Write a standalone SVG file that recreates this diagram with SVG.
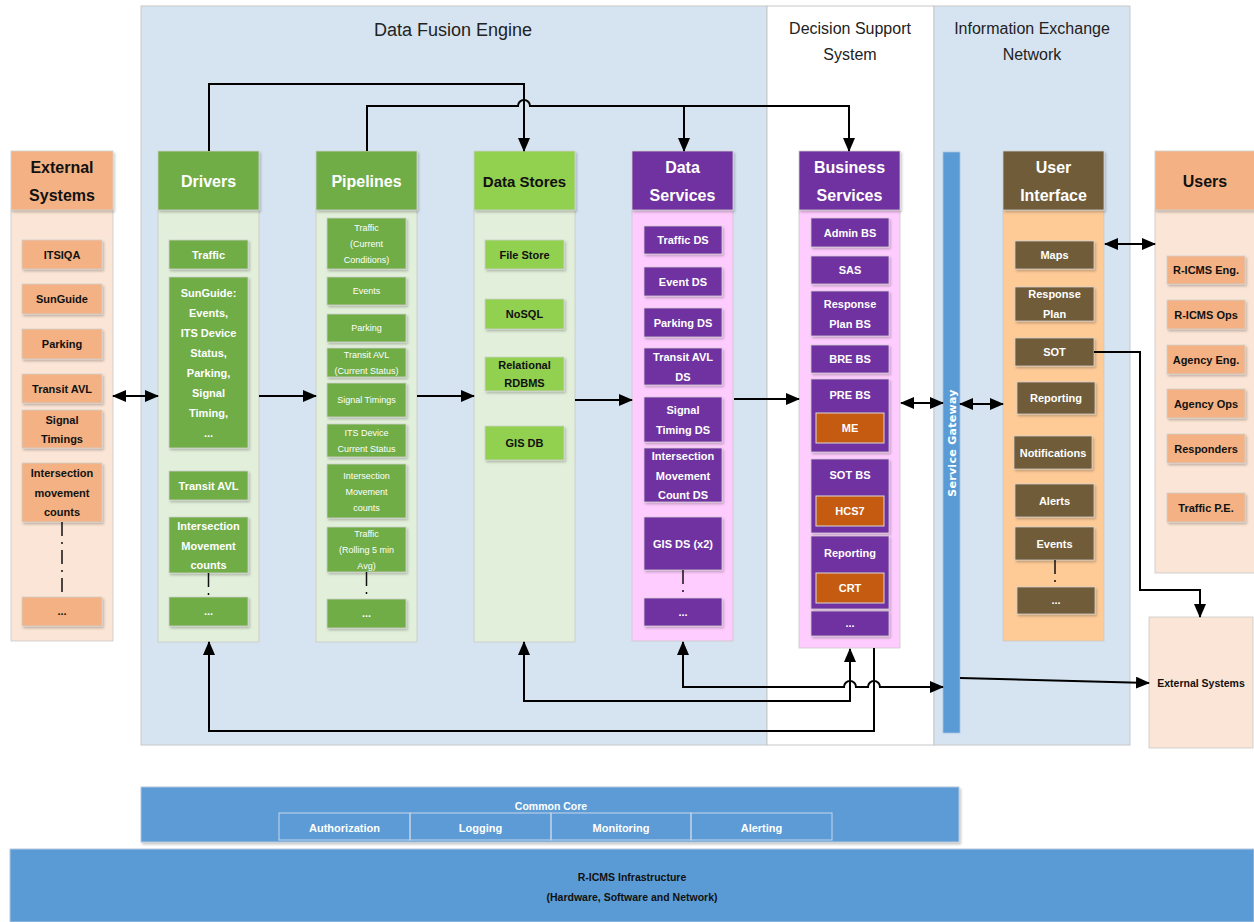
<svg xmlns="http://www.w3.org/2000/svg" width="1254" height="922" viewBox="0 0 1254 922">
<defs>
<style>
text{font-family:"Liberation Sans",Arial,sans-serif;text-anchor:middle;dominant-baseline:central}
.panel{fill:#d6e4f1;stroke:#c8c8c8;stroke-width:1}
.ptitle{font-size:16px;fill:#222}
.hdr{font-size:16px;font-weight:bold}
.it{font-size:11px;font-weight:bold}
.sm{font-size:9px}
.w{fill:#fff}
.k{fill:#111}
.body{stroke:#c9c9c9;stroke-width:0.8}
.orH{fill:#f4b183}
.orB{fill:#fbe5d6}
.grH{fill:#70ad47}
.grB{fill:#e2efda}
.lgH{fill:#92d050}
.puH{fill:#7030a0}
.puB{fill:#ffccff}
.brH{fill:#6f5b37}
.ui{fill:#fecb97}
.rust{fill:#c55a11;stroke:#d9d9d9;stroke-width:1}
.box{stroke:#d0d0d0;stroke-width:0.8;filter:url(#sh)}
.dash{stroke:#111;stroke-width:1.5;stroke-dasharray:14,6,2,6;fill:none}
.con{stroke:#000;stroke-width:2;fill:none}
.one{marker-end:url(#ah)}
.two{marker-start:url(#ah);marker-end:url(#ah)}
</style>
<marker id="ah" viewBox="0 0 14 12" refX="13" refY="6" markerWidth="14" markerHeight="12" markerUnits="userSpaceOnUse" orient="auto-start-reverse">
<path d="M0,0 L14,6 L0,12 z" fill="#000"/>
</marker>
<filter id="sh" x="-10%" y="-10%" width="130%" height="140%">
<feDropShadow dx="1.5" dy="2" stdDeviation="1.2" flood-color="#000" flood-opacity="0.22"/>
</filter>
</defs>

<rect width="1254" height="922" fill="#fff"/>

<g id="panels">
<rect class="panel" x="141" y="6" width="626" height="739"/>
<rect x="767" y="6" width="167" height="739" fill="#fff" stroke="#c8c8c8"/>
<rect class="panel" x="934" y="6" width="196" height="739"/>
<text class="ptitle" x="453" y="30" style="font-size:18px">Data Fusion Engine</text>
<text class="ptitle" x="850" y="28">Decision Support</text>
<text class="ptitle" x="850" y="54">System</text>
<text class="ptitle" x="1032" y="28">Information Exchange</text>
<text class="ptitle" x="1032" y="54">Network</text>
</g>

<g id="external-systems">
<rect class="orB body" x="11" y="210" width="102" height="431"/>
<rect class="orH box" x="11" y="151" width="102" height="59"/>
<text class="hdr k" x="62" y="167">External</text>
<text class="hdr k" x="62" y="195">Systems</text>
<rect class="orH box" x="22" y="240" width="80" height="29"/><text class="it k" x="62" y="254.5">ITSIQA</text>
<rect class="orH box" x="22" y="284" width="80" height="30"/><text class="it k" x="62" y="299">SunGuide</text>
<rect class="orH box" x="22" y="329" width="80" height="30"/><text class="it k" x="62" y="344">Parking</text>
<rect class="orH box" x="22" y="374" width="80" height="29"/><text class="it k" x="62" y="388.5">Transit AVL</text>
<rect class="orH box" x="22" y="410" width="80" height="38"/><text class="it k" x="62" y="420">Signal</text><text class="it k" x="62" y="439">Timings</text>
<rect class="orH box" x="22" y="463" width="80" height="59"/><text class="it k" x="62" y="473">Intersection</text><text class="it k" x="62" y="492.5">movement</text><text class="it k" x="62" y="512">counts</text>
<line class="dash" x1="62" y1="522" x2="62" y2="597"/>
<rect class="orH box" x="22" y="597" width="80" height="29"/><text class="it k" x="62" y="611">...</text>
</g>

<g id="drivers">
<rect class="grB body" x="158" y="210" width="101" height="432"/>
<rect class="grH box" x="158" y="151" width="101" height="59"/>
<text class="hdr w" x="208.5" y="181">Drivers</text>
<rect class="grH box" x="169" y="240" width="79" height="29"/><text class="it w" x="208.5" y="254.5">Traffic</text>
<rect class="grH box" x="169" y="277" width="79" height="171"/>
<text class="it w" x="208.5" y="293">SunGuide:</text>
<text class="it w" x="208.5" y="313">Events,</text>
<text class="it w" x="208.5" y="333">ITS Device</text>
<text class="it w" x="208.5" y="353">Status,</text>
<text class="it w" x="208.5" y="373">Parking,</text>
<text class="it w" x="208.5" y="393">Signal</text>
<text class="it w" x="208.5" y="413">Timing,</text>
<text class="it w" x="208.5" y="433">...</text>
<rect class="grH box" x="169" y="471" width="79" height="29"/><text class="it w" x="208.5" y="485.5">Transit AVL</text>
<rect class="grH box" x="169" y="517" width="79" height="56"/><text class="it w" x="208.5" y="526">Intersection</text><text class="it w" x="208.5" y="546">Movement</text><text class="it w" x="208.5" y="565">counts</text>
<line class="dash" x1="208.5" y1="573" x2="208.5" y2="597"/>
<rect class="grH box" x="169" y="597" width="79" height="29"/><text class="it w" x="208.5" y="611">...</text>
</g>

<g id="pipelines">
<rect class="grB body" x="316" y="210" width="101" height="432"/>
<rect class="grH box" x="316" y="151" width="101" height="59"/>
<text class="hdr w" x="366.5" y="181">Pipelines</text>
<rect class="grH box" x="327" y="218" width="79" height="51"/><text class="sm w" x="366.5" y="228">Traffic</text><text class="sm w" x="366.5" y="244">(Current</text><text class="sm w" x="366.5" y="260">Conditions)</text>
<rect class="grH box" x="327" y="277" width="79" height="28"/><text class="sm w" x="366.5" y="291">Events</text>
<rect class="grH box" x="327" y="314" width="79" height="28"/><text class="sm w" x="366.5" y="328">Parking</text>
<rect class="grH box" x="327" y="348" width="79" height="29"/><text class="sm w" x="366.5" y="355">Transit AVL</text><text class="sm w" x="366.5" y="371">(Current Status)</text>
<rect class="grH box" x="327" y="383" width="79" height="34"/><text class="sm w" x="366.5" y="400">Signal Timings</text>
<rect class="grH box" x="327" y="424" width="79" height="33"/><text class="sm w" x="366.5" y="433">ITS Device</text><text class="sm w" x="366.5" y="449">Current Status</text>
<rect class="grH box" x="327" y="464" width="79" height="54"/><text class="sm w" x="366.5" y="476">Intersection</text><text class="sm w" x="366.5" y="492">Movement</text><text class="sm w" x="366.5" y="508">counts</text>
<rect class="grH box" x="327" y="527" width="79" height="45"/><text class="sm w" x="366.5" y="534">Traffic</text><text class="sm w" x="366.5" y="550">(Rolling 5 min</text><text class="sm w" x="366.5" y="566">Avg)</text>
<line class="dash" x1="366.5" y1="572" x2="366.5" y2="599"/>
<rect class="grH box" x="327" y="599" width="79" height="29"/><text class="it w" x="366.5" y="613">...</text>
</g>

<g id="data-stores">
<rect class="grB body" x="474" y="210" width="101" height="432"/>
<rect class="lgH box" x="474" y="151" width="101" height="59"/>
<text class="hdr k" x="524.5" y="181" style="font-size:15px">Data Stores</text>
<rect class="lgH box" x="485" y="240" width="79" height="29"/><text class="it k" x="524.5" y="254.5">File Store</text>
<rect class="lgH box" x="485" y="299" width="79" height="30"/><text class="it k" x="524.5" y="314">NoSQL</text>
<rect class="lgH box" x="485" y="357" width="79" height="34"/><text class="it k" x="524.5" y="365">Relational</text><text class="it k" x="524.5" y="383">RDBMS</text>
<rect class="lgH box" x="485" y="426" width="79" height="34"/><text class="it k" x="524.5" y="443">GIS DB</text>
</g>

<g id="data-services">
<rect class="puB body" x="632" y="210" width="101" height="431"/>
<rect class="puH box" x="632" y="151" width="101" height="59"/>
<text class="hdr w" x="682.5" y="167">Data</text>
<text class="hdr w" x="682.5" y="195">Services</text>
<rect class="puH box" x="644" y="226" width="78" height="28"/><text class="it w" x="683" y="240">Traffic DS</text>
<rect class="puH box" x="644" y="267" width="78" height="29"/><text class="it w" x="683" y="281.5">Event DS</text>
<rect class="puH box" x="644" y="308" width="78" height="29"/><text class="it w" x="683" y="322.5">Parking DS</text>
<rect class="puH box" x="644" y="348" width="78" height="37"/><text class="it w" x="683" y="357">Transit AVL</text><text class="it w" x="683" y="377">DS</text>
<rect class="puH box" x="644" y="397" width="78" height="45"/><text class="it w" x="683" y="410">Signal</text><text class="it w" x="683" y="430">Timing DS</text>
<rect class="puH box" x="644" y="448" width="78" height="54"/><text class="it w" x="683" y="456">Intersection</text><text class="it w" x="683" y="476">Movement</text><text class="it w" x="683" y="495">Count DS</text>
<rect class="puH box" x="644" y="517" width="78" height="53"/><text class="it w" x="683" y="544">GIS DS (x2)</text>
<line class="dash" x1="683" y1="570" x2="683" y2="598"/>
<rect class="puH box" x="644" y="598" width="78" height="28"/><text class="it w" x="683" y="612">...</text>
</g>

<g id="business-services">
<rect class="puB body" x="799" y="210" width="101" height="438"/>
<rect class="puH box" x="799" y="151" width="101" height="59"/>
<text class="hdr w" x="849.5" y="167">Business</text>
<text class="hdr w" x="849.5" y="195">Services</text>
<rect class="puH box" x="811" y="218" width="78" height="29"/><text class="it w" x="850" y="233">Admin BS</text>
<rect class="puH box" x="811" y="256" width="78" height="28"/><text class="it w" x="850" y="270">SAS</text>
<rect class="puH box" x="811" y="291" width="78" height="45"/><text class="it w" x="850" y="304">Response</text><text class="it w" x="850" y="324">Plan BS</text>
<rect class="puH box" x="811" y="345" width="78" height="28"/><text class="it w" x="850" y="359">BRE BS</text>
<rect class="puH box" x="811" y="379" width="78" height="73"/><text class="it w" x="850" y="395">PRE BS</text>
<rect class="rust" x="816" y="413" width="68" height="30"/><text class="it w" x="850" y="428">ME</text>
<rect class="puH box" x="811" y="459" width="78" height="74"/><text class="it w" x="850" y="475">SOT BS</text>
<rect class="rust" x="816" y="496" width="68" height="30"/><text class="it w" x="850" y="511">HCS7</text>
<rect class="puH box" x="811" y="536" width="78" height="73"/><text class="it w" x="850" y="553">Reporting</text>
<rect class="rust" x="816" y="573" width="68" height="30"/><text class="it w" x="850" y="588">CRT</text>
<rect class="puH box" x="811" y="611" width="78" height="25"/><text class="it w" x="850" y="623">...</text>
</g>

<g id="service-gateway">
<rect x="943" y="152" width="17" height="581" fill="#5b9bd5" stroke="#a6c4e4" stroke-width="0.8"/>
<text x="952" y="443" transform="rotate(-90 952 443)" style="font-family:'DejaVu Sans',sans-serif;font-size:11px;font-weight:bold;fill:#fff;letter-spacing:0.3px">Service Gateway</text>
</g>

<g id="user-interface">
<rect class="ui body" x="1003" y="210" width="101" height="431"/>
<rect class="brH box" x="1003" y="151" width="101" height="59"/>
<text class="hdr w" x="1053.5" y="167">User</text>
<text class="hdr w" x="1053.5" y="195">Interface</text>
<rect class="brH box" x="1015" y="241" width="79" height="28"/><text class="it w" x="1054.5" y="255">Maps</text>
<rect class="brH box" x="1015" y="287" width="79" height="34"/><text class="it w" x="1054.5" y="294">Response</text><text class="it w" x="1054.5" y="314">Plan</text>
<rect class="brH box" x="1015" y="338" width="79" height="28"/><text class="it w" x="1054.5" y="352">SOT</text>
<rect class="brH box" x="1017" y="382" width="78" height="32"/><text class="it w" x="1056" y="398">Reporting</text>
<rect class="brH box" x="1014" y="436" width="78" height="33"/><text class="it w" x="1053" y="452.5">Notifications</text>
<rect class="brH box" x="1015" y="484" width="79" height="33"/><text class="it w" x="1054.5" y="500.5">Alerts</text>
<rect class="brH box" x="1015" y="527" width="79" height="33"/><text class="it w" x="1054.5" y="543.5">Events</text>
<line class="dash" x1="1055" y1="560" x2="1055" y2="587"/>
<rect class="brH box" x="1017" y="587" width="78" height="27"/><text class="it w" x="1056" y="600">...</text>
</g>

<g id="users">
<rect class="orB body" x="1155" y="210" width="100" height="363"/>
<rect class="orH box" x="1155" y="151" width="100" height="59"/>
<text class="hdr k" x="1205" y="181">Users</text>
<rect class="orH box" x="1167" y="256" width="78" height="28"/><text class="it k" x="1206" y="270">R-ICMS Eng.</text>
<rect class="orH box" x="1167" y="300" width="78" height="29"/><text class="it k" x="1206" y="314.5">R-ICMS Ops</text>
<rect class="orH box" x="1167" y="345" width="78" height="29"/><text class="it k" x="1206" y="359.5">Agency Eng.</text>
<rect class="orH box" x="1167" y="389" width="78" height="29"/><text class="it k" x="1206" y="403.5">Agency Ops</text>
<rect class="orH box" x="1167" y="434" width="78" height="29"/><text class="it k" x="1206" y="448.5">Responders</text>
<rect class="orH box" x="1167" y="493" width="78" height="29"/><text class="it k" x="1206" y="507.5">Traffic P.E.</text>
</g>

<g id="external-systems-out">
<rect class="orB body" x="1149" y="617" width="104" height="131"/>
<text class="it k" x="1201" y="683" style="font-size:10.5px">External Systems</text>
</g>

<g id="common-core">
<rect x="141" y="787" width="818" height="55" fill="#5b9bd5" stroke="#b4c7dc" stroke-width="1" filter="url(#sh)"/>
<text class="w" x="551" y="806" style="font-size:10.5px;font-weight:bold">Common Core</text>
<g fill="none" stroke="#c5d6e8" stroke-width="1">
<rect x="279" y="813" width="131" height="27"/>
<rect x="410" y="813" width="141" height="27"/>
<rect x="551" y="813" width="140" height="27"/>
<rect x="691" y="813" width="141" height="27"/>
</g>
<text class="w" x="344.5" y="828" style="font-size:11px;font-weight:bold">Authorization</text>
<text class="w" x="480.5" y="828" style="font-size:11px;font-weight:bold">Logging</text>
<text class="w" x="621" y="828" style="font-size:11px;font-weight:bold">Monitoring</text>
<text class="w" x="761.5" y="828" style="font-size:11px;font-weight:bold">Alerting</text>
</g>

<g id="infrastructure">
<rect x="10" y="849" width="1244" height="73" fill="#5b9bd5" stroke="#b4c7dc" stroke-width="1"/>
<text class="k" x="632" y="877" style="font-size:10.5px;font-weight:bold">R-ICMS Infrastructure</text>
<text class="k" x="632" y="897" style="font-size:10.5px;font-weight:bold">(Hardware, Software and Network)</text>
</g>

<g id="connectors">
<path class="con two" d="M113,396 H158"/>
<path class="con one" d="M259,396 H316"/>
<path class="con one" d="M417,396 H474"/>
<path class="con one" d="M575,400 H632"/>
<path class="con one" d="M734,399 H799"/>
<path class="con two" d="M901,403 H943"/>
<path class="con two" d="M960,404 H1003"/>
<path class="con two" d="M1105,244 H1155"/>
<path class="con one" d="M1094,352 H1140 V590 H1200 V617"/>
<path class="con one" d="M960,678 L1149,683"/>
<path class="con one" d="M209,151 V84 H524 V151"/>
<path class="con one" d="M367,151 V106 H518 a6,6 0 0 1 12,0 H849 V151"/>
<path class="con one" d="M684,106 V151"/>
<path class="con two" d="M683,642 V687 H844 a6,6 0 0 1 12,0 H868 a6,6 0 0 1 12,0 H943"/>
<path class="con two" d="M524,642 V701 H850 V649"/>
<path class="con one" d="M874,648 V731 H209 V642"/>
</g>
</svg>
